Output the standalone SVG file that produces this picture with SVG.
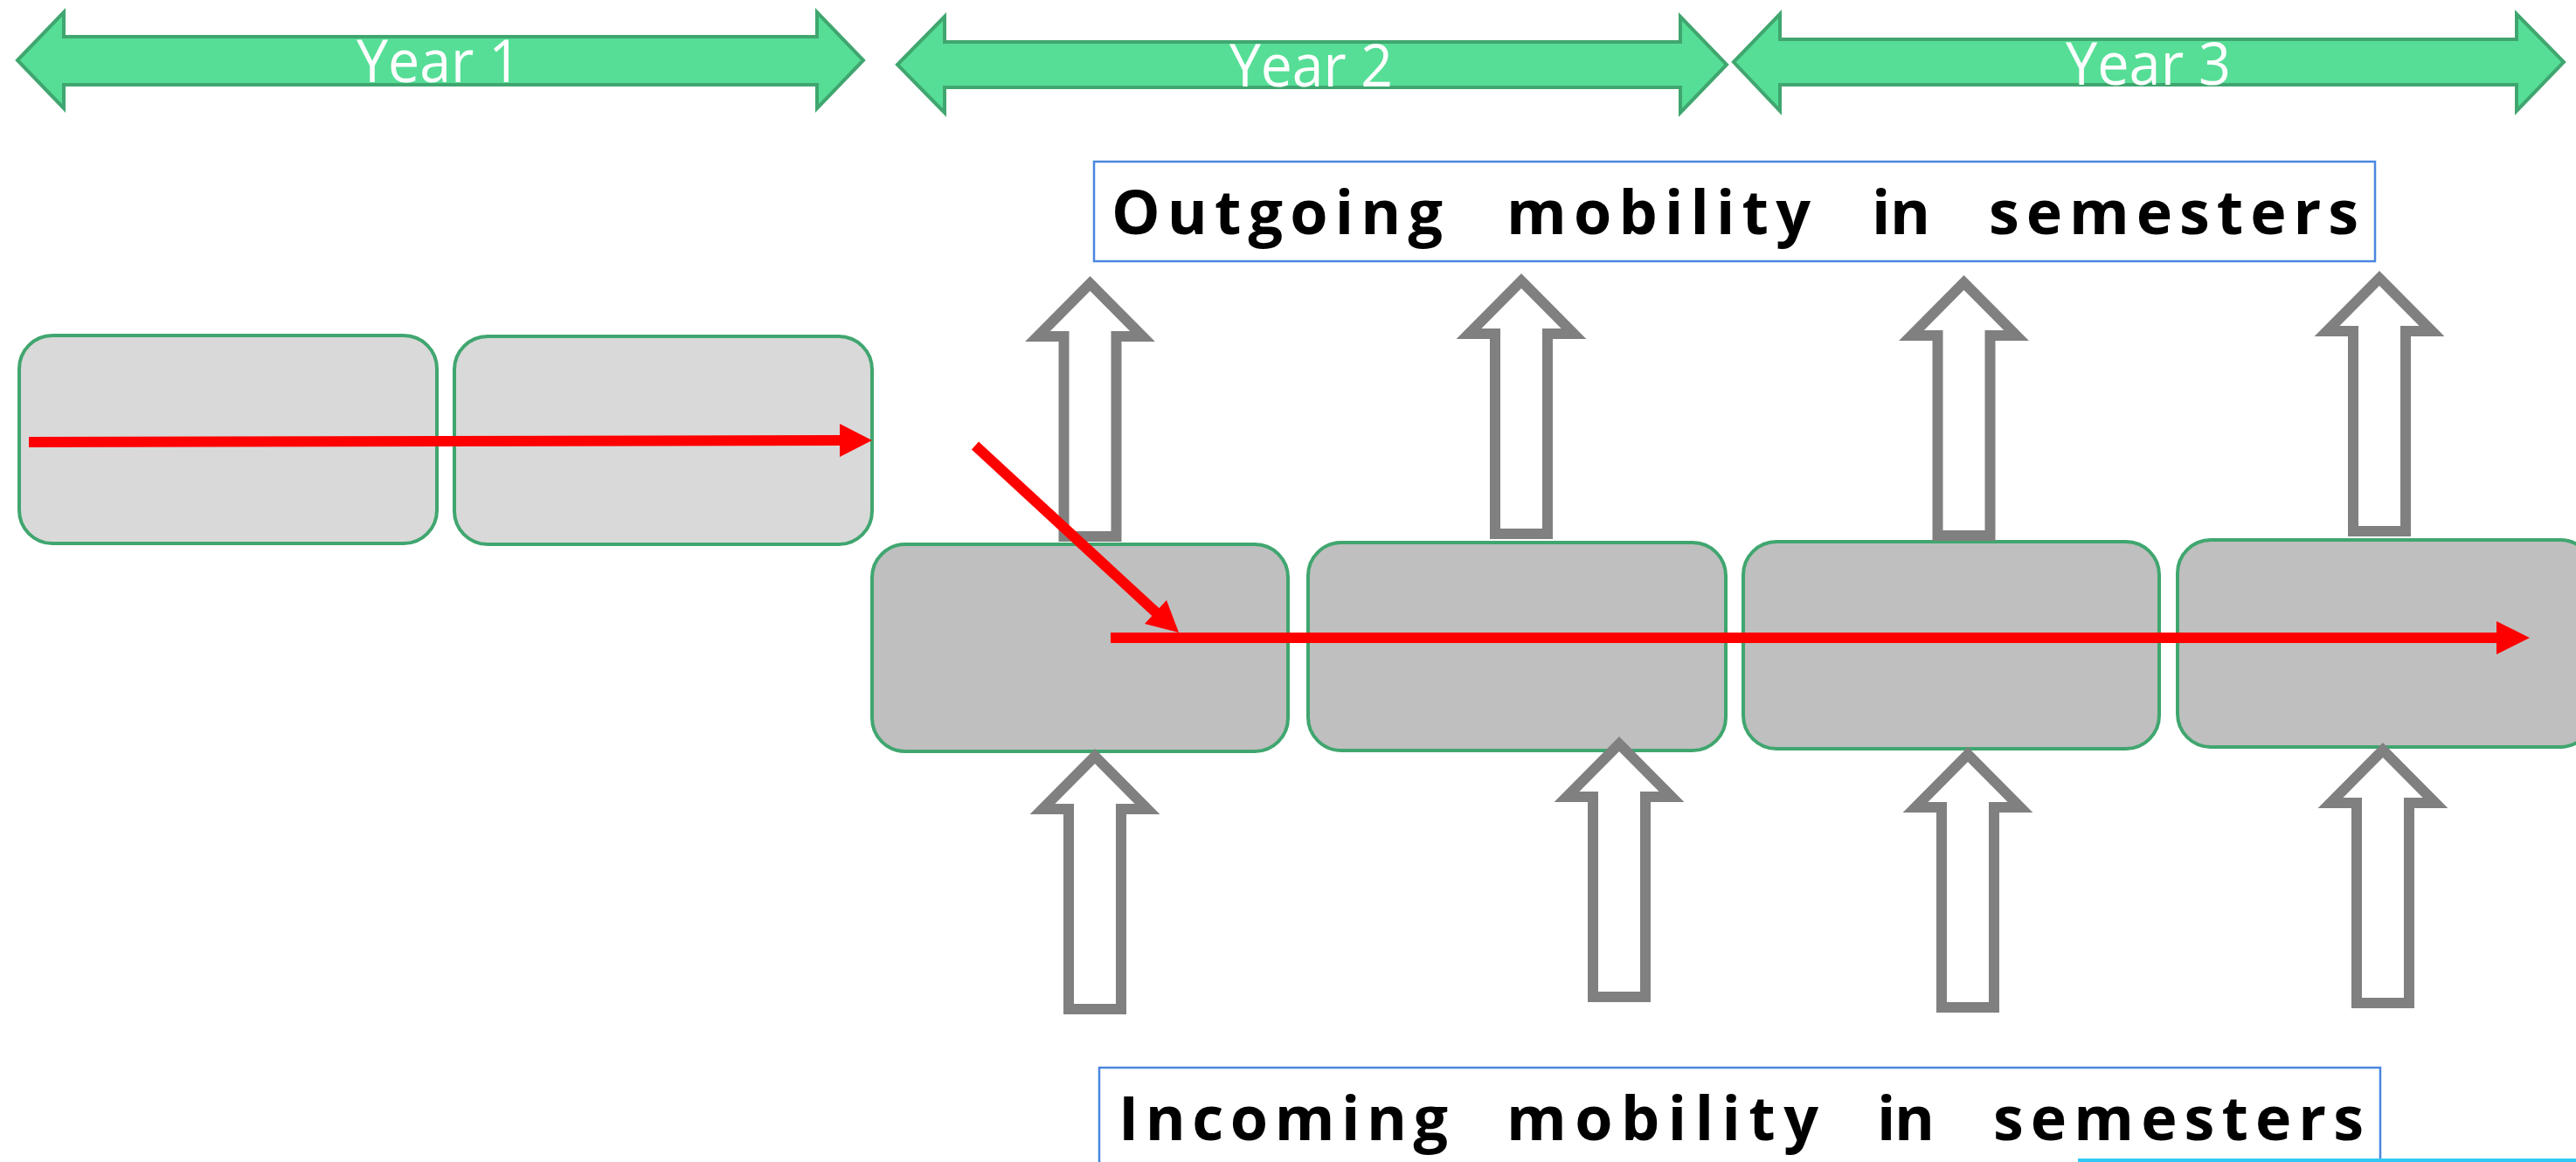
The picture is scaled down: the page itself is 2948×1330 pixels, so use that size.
<svg xmlns="http://www.w3.org/2000/svg" xmlns:xlink="http://www.w3.org/1999/xlink" width="2948" height="1330" viewBox="0 0 2948 1330">
<style>
.year{fill:#56de96;stroke:#40a66f;stroke-width:4;stroke-linejoin:miter}
.ylab{font-family:"Open Sans","Liberation Sans",sans-serif;font-size:68px;fill:#ffffff}
.sem1{fill:#d9d9d9;stroke:#40a66f;stroke-width:4}
.sem2{fill:#bfbfbf;stroke:#40a66f;stroke-width:4}
.lbox{fill:#ffffff;stroke:#4a86e0;stroke-width:2.5}
.lab{font-family:"Open Sans","Liberation Sans",sans-serif;font-size:70px;font-weight:bold;fill:#000000}
.mob{fill:#ffffff;stroke:#808080;stroke-width:12;stroke-linejoin:miter}
.red{stroke:#ff0000;stroke-width:12;fill:none}
.redhead{fill:#ff0000}
</style>
<defs>
<path id="uparrow" d="M0,8.5 L60,69 L30,69 L30,298 L-30,298 L-30,69 L-60,69 Z"/>
</defs>
<rect width="2948" height="1330" fill="#ffffff"/>

<g id="year1">
<path class="year" d="M20,69 L73,14 L73,42 L935,42 L935,14 L988,69 L935,124 L935,97 L73,97 L73,124 Z"/>
<text class="ylab" x="408" y="94" textLength="188" lengthAdjust="spacingAndGlyphs">Year 1</text>
</g>
<g id="year2">
<path class="year" d="M1027,74 L1081,19 L1081,48 L1923,48 L1923,19 L1976,74 L1923,129 L1923,100 L1081,100 L1081,129 Z"/>
<text class="ylab" x="1407" y="99" textLength="187" lengthAdjust="spacingAndGlyphs">Year 2</text>
</g>
<g id="year3">
<path class="year" d="M1984,71 L2037,16 L2037,45 L2880,45 L2880,16 L2934,71 L2880,127 L2880,97 L2037,97 L2037,127 Z"/>
<text class="ylab" x="2364" y="97" textLength="189" lengthAdjust="spacingAndGlyphs">Year 3</text>
</g>

<g id="outgoing-label">
<rect class="lbox" x="1252" y="185" width="1466" height="114"/>
<text class="lab" y="268"><tspan x="1272" textLength="379" lengthAdjust="spacing">Outgoing</tspan> <tspan x="1724" textLength="348" lengthAdjust="spacing">mobility</tspan> <tspan x="2142" textLength="67" lengthAdjust="spacing">in</tspan> <tspan x="2276" textLength="423" lengthAdjust="spacing">semesters</tspan></text>
</g>

<g id="incoming-label">
<rect class="lbox" x="1258" y="1222" width="1466" height="140"/>
<text class="lab" y="1305"><tspan x="1280" textLength="377" lengthAdjust="spacing">Incoming</tspan> <tspan x="1724" textLength="357" lengthAdjust="spacing">mobility</tspan> <tspan x="2148" textLength="66" lengthAdjust="spacing">in</tspan> <tspan x="2281" textLength="424" lengthAdjust="spacing">semesters</tspan></text>
</g>
<line x1="2378" y1="1328" x2="2948" y2="1328" stroke="#33c9f5" stroke-width="4"/>

<g id="semester1"><rect class="sem1" x="22" y="384" width="478" height="238" rx="38" ry="38"/></g>
<g id="semester2"><rect class="sem1" x="520" y="385" width="478" height="238" rx="38" ry="38"/></g>
<g id="semester3"><rect class="sem2" x="998" y="623" width="476" height="237" rx="38" ry="38"/></g>
<g id="semester4"><rect class="sem2" x="1497" y="621" width="478" height="238" rx="38" ry="38"/></g>
<g id="semester5"><rect class="sem2" x="1995" y="620" width="476" height="237" rx="38" ry="38"/></g>
<g id="semester6"><rect class="sem2" x="2492" y="618" width="476" height="237" rx="38" ry="38"/></g>

<g id="outgoing-arrows">
<use xlink:href="#uparrow" class="mob" transform="translate(1247.5,316)"/>
<use xlink:href="#uparrow" class="mob" transform="translate(1741,313)"/>
<use xlink:href="#uparrow" class="mob" transform="translate(2247.5,315)"/>
<use xlink:href="#uparrow" class="mob" transform="translate(2723,310)"/>
</g>
<g id="incoming-arrows">
<use xlink:href="#uparrow" class="mob" transform="translate(1253,857)"/>
<use xlink:href="#uparrow" class="mob" transform="translate(1853,843)"/>
<use xlink:href="#uparrow" class="mob" transform="translate(2252,855)"/>
<use xlink:href="#uparrow" class="mob" transform="translate(2727,850)"/>
</g>

<g id="connectors">
<line class="red" x1="33" y1="506" x2="962" y2="504"/>
<polygon class="redhead" points="961,485 998,504 961,523"/>
<line class="red" x1="1116" y1="510" x2="1324" y2="702"/>
<polygon class="redhead" points="1335,687 1349,724 1310,714"/>
<line class="red" x1="1271" y1="730" x2="2858" y2="730"/>
<polygon class="redhead" points="2857,711 2895,730 2857,749"/>
</g>
</svg>
